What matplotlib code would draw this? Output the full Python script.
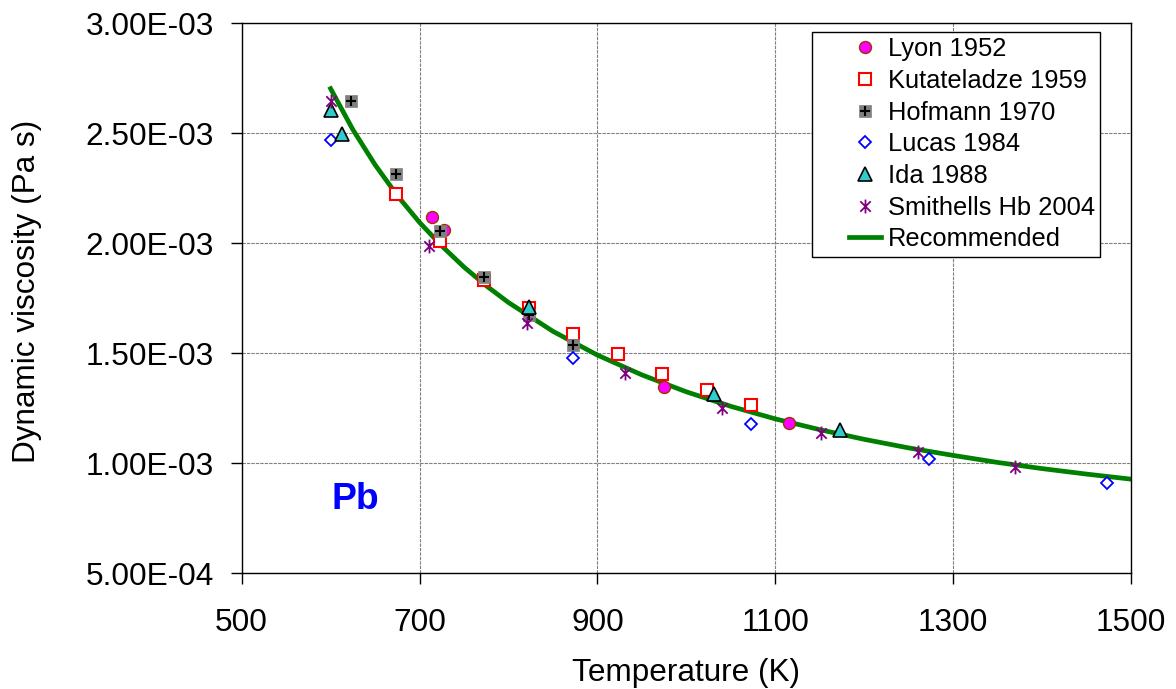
import matplotlib
matplotlib.use('Agg')
import matplotlib.pyplot as plt
from matplotlib.lines import Line2D
from matplotlib.path import Path
from matplotlib.legend_handler import HandlerLine2D, HandlerTuple
from matplotlib.ticker import FuncFormatter, MultipleLocator

plt.rcParams['font.family'] = ['Liberation Sans', 'DejaVu Sans']

# Measured Pb viscosity data (Pa s)
lyon_T = [714, 728, 975, 1116]
lyon_mu = [2.118e-3, 2.060e-3, 1.348e-3, 1.185e-3]

kut_T = [673, 723, 773, 823, 873, 923, 973, 1023, 1073]
kut_mu = [2.224e-3, 2.012e-3, 1.833e-3, 1.705e-3, 1.586e-3, 1.495e-3, 1.405e-3, 1.333e-3, 1.265e-3]

hof_T = [623, 673, 723, 773, 823, 873]
hof_mu = [2.647e-3, 2.314e-3, 2.056e-3, 1.848e-3, 1.674e-3, 1.538e-3]

lucas_T = [600, 873, 1073, 1273, 1473]
lucas_mu = [2.470e-3, 1.480e-3, 1.179e-3, 1.020e-3, 0.909e-3]

ida_T = [601, 613, 823, 1031, 1173]
ida_mu = [2.608e-3, 2.497e-3, 1.712e-3, 1.313e-3, 1.153e-3]

smit_T = [600, 711, 821, 931, 1040, 1151, 1260, 1370]
smit_mu = [2.648e-3, 1.988e-3, 1.636e-3, 1.409e-3, 1.253e-3, 1.136e-3, 1.053e-3, 0.985e-3]

# Recommended curve
rec_T = [600, 625, 650, 675, 700, 725, 750, 775, 800, 850, 900, 950, 1000, 1050,
         1100, 1150, 1200, 1250, 1300, 1350, 1400, 1450, 1500]
rec_mu = [2.703e-3, 2.517e-3, 2.357e-3, 2.217e-3, 2.095e-3, 1.988e-3, 1.892e-3, 1.807e-3,
          1.731e-3, 1.600e-3, 1.492e-3, 1.402e-3, 1.325e-3, 1.259e-3, 1.202e-3, 1.153e-3,
          1.109e-3, 1.070e-3, 1.036e-3, 1.004e-3, 0.976e-3, 0.951e-3, 0.928e-3]

x_ticks = [500, 700, 900, 1100, 1300, 1500]


class RightHandler(HandlerLine2D):
    # draw the legend handle in the right part of the handle box
    def get_xdata(self, legend, xdescent, ydescent, width, height, fontsize):
        x0 = -xdescent + 0.49 * width
        x1 = -xdescent + width
        return [x0, x1], [0.5 * (x0 + x1)]


star = Path([(0, -1), (0, 1), (-0.75, -0.75), (0.75, 0.75), (-0.75, 0.75), (0.75, -0.75)],
            [Path.MOVETO, Path.LINETO, Path.MOVETO, Path.LINETO, Path.MOVETO, Path.LINETO])

fig = plt.figure(figsize=(11.76, 6.89), dpi=100)
ax = fig.add_axes([0.2055, 0.1679, 0.7562, 0.7983])

rec, = ax.plot(rec_T, rec_mu, color='#008000', lw=3.4, zorder=2, label='Recommended')
lyon, = ax.plot(lyon_T, lyon_mu, ls='none', marker='o', ms=8.6, mfc='#FF00FF', mec='#993300',
                mew=1.0, zorder=3)
kut, = ax.plot(kut_T, kut_mu, ls='none', marker='s', ms=8.8, mfc='white', mec='#FF0000',
               mew=1.5, zorder=4)
hof_sq, = ax.plot(hof_T, hof_mu, ls='none', marker='s', ms=9.2, mfc='#808080', mec='#808080',
                  mew=0.5, zorder=5)
hof_pl, = ax.plot(hof_T, hof_mu, ls='none', marker='+', ms=7.5, mec='black', mew=1.5, zorder=5)
lucas, = ax.plot(lucas_T, lucas_mu, ls='none', marker='D', ms=6.4, mfc='white', mec='#0000FF',
                 mew=1.3, zorder=6)
ida, = ax.plot(ida_T, ida_mu, ls='none', marker='^', ms=10, mfc='#33CCCC', mec='black',
               mew=1.2, zorder=7)
smit, = ax.plot(smit_T, smit_mu, ls='none', marker=star, ms=10, mec='#800080', mew=1.3, zorder=8)

ax.set_xlim(500, 1500)
ax.set_ylim(5.0e-4, 3.0e-3)
ax.set_xticks(x_ticks)
ax.yaxis.set_major_locator(MultipleLocator(5.0e-4))
ax.yaxis.set_major_formatter(FuncFormatter(lambda v, p: f'{v:.2E}'))

ax.grid(True, color='#808080', lw=0.8, ls=(0, (3, 1)))
ax.set_axisbelow(True)
for s in ax.spines.values():
    s.set_color('black')
    s.set_linewidth(1.0)

ax.tick_params(axis='x', direction='out', length=7.7, width=1, pad=17, labelsize=22.7)
ax.tick_params(axis='y', direction='out', length=8, width=1, pad=12, labelsize=22.7)

ax.set_xlabel('Temperature (K)', fontsize=22.7)
ax.set_ylabel('Dynamic viscosity (Pa s)', fontsize=22.7)
ax.xaxis.set_label_coords(0.5, -0.154)
ax.yaxis.set_label_coords(-0.225, 0.512)

ax.text(601.5, 0.791e-3, 'Pb', color='#0000FF', fontsize=26.8, fontweight='bold',
        ha='left', va='baseline')

handles = [lyon, kut, (hof_sq, hof_pl), lucas, ida, smit, rec]
labels = ['Lyon 1952', 'Kutateladze 1959', 'Hofmann 1970', 'Lucas 1984', 'Ida 1988',
          'Smithells Hb 2004', 'Recommended']
leg = ax.legend(handles, labels, loc='upper right', bbox_to_anchor=(0.965, 0.9836),
                borderaxespad=0, fontsize=18.4, frameon=True, fancybox=False,
                edgecolor='black', framealpha=1, borderpad=0.2, labelspacing=0.3,
                handlelength=2.48, handletextpad=0.26, numpoints=1,
                handler_map={Line2D: RightHandler(), tuple: HandlerTuple(ndivide=1, pad=0)})
leg.get_frame().set_linewidth(1.0)
leg.set_zorder(10)

fig.savefig('out.png', dpi=100)
